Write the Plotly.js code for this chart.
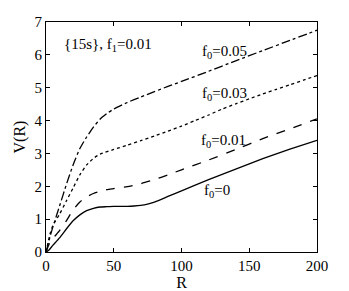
<!DOCTYPE html>
<html>
<head>
<meta charset="utf-8">
<script src="https://cdn.plot.ly/plotly-3.0.1.min.js"></script>
<style>html,body{margin:0;padding:0;background:#fff;}#chart{width:349px;height:291px;}</style>
</head>
<body>
<div id="chart"></div>
<script>
// f0 = 0 (solid)
const R0 = [0,2,5,10,15,20,25,30,35,40,45,50,55,60,65,70,75,80,90,100,120,140,160,180,200];
const V0 = [0,0.05,0.2,0.43,0.7,0.95,1.13,1.26,1.33,1.37,1.38,1.39,1.39,1.39,1.40,1.42,1.46,1.52,1.69,1.86,2.2,2.52,2.84,3.13,3.4];
// f0 = 0.01 (dashed)
const R1 = [0,3,10,15,20,25,30,35,40,45,50,60,70,80,90,100,120,140,160,180,200];
const V1 = [0,0.3,0.65,0.95,1.28,1.52,1.68,1.78,1.85,1.90,1.93,1.99,2.08,2.2,2.35,2.5,2.8,3.12,3.45,3.75,4.05];
// f0 = 0.03 (dotted)
const R3 = [0,3,5,10,15,20,25,30,35,40,50,60,70,80,90,100,110,120,130,140,150,160,170,180,190,200];
const V3 = [0,0.55,0.8,1.15,1.55,1.95,2.35,2.65,2.85,2.98,3.12,3.25,3.39,3.53,3.68,3.83,4.0,4.17,4.35,4.51,4.66,4.81,4.95,5.09,5.23,5.37];
// f0 = 0.05 (dash-dot)
const R5 = [0,3,5,10,15,20,25,30,35,40,45,50,60,70,80,90,100,120,140,160,180,200];
const V5 = [0,0.47,0.75,1.4,2.05,2.65,3.15,3.5,3.8,4.05,4.22,4.35,4.55,4.72,4.88,5.04,5.19,5.5,5.82,6.13,6.44,6.75];

const xTicks = [0,50,100,150,200];
const yTicks = [0,1,2,3,4,5,6,7];
const labels = ['f<sub>0</sub>=0.05','f<sub>0</sub>=0.03','f<sub>0</sub>=0.01','f<sub>0</sub>=0'];
const labelX = [131.6,131.6,131,126.2];
const labelY = [6.1,4.8,3.38,1.86];
const titleText = '{15s}, f<sub>1</sub>=0.01';

const font = 'Liberation Serif, Times New Roman, serif';
const ln = (x,y,dash) => ({x:x,y:y,type:'scatter',mode:'lines',line:{color:'#000',width:1.3,dash:dash,shape:'spline',smoothing:0.5},hoverinfo:'skip'});
const data = [ln(R0,V0,'solid'), ln(R1,V1,'dash'), ln(R3,V3,'dot'), ln(R5,V5,'dashdot')];

const ann = labels.map((t,i)=>({x:labelX[i],y:labelY[i],xref:'x',yref:'y',text:t,showarrow:false,xanchor:'center',yanchor:'middle',font:{family:font,size:15,color:'#000'}}));
ann.push({x:46,y:6.3,xref:'x',yref:'y',text:titleText,showarrow:false,xanchor:'center',yanchor:'middle',font:{family:font,size:15,color:'#000'}});

const axis = {showgrid:false,zeroline:false,showline:true,linecolor:'#000',linewidth:1,mirror:'ticks',ticks:'inside',ticklen:4,tickcolor:'#000',tickfont:{family:font,size:15,color:'#000'}};
const layout = {
  width:349,height:291,margin:{l:46,r:32,t:22,b:39},
  paper_bgcolor:'#fff',plot_bgcolor:'#fff',showlegend:false,
  xaxis:Object.assign({},axis,{range:[0,200],tickvals:xTicks,title:{text:'R',font:{family:font,size:16,color:'#000'},standoff:0}}),
  yaxis:Object.assign({},axis,{range:[0,7],tickvals:yTicks,title:{text:'V(R)',font:{family:font,size:16,color:'#000'},standoff:4}}),
  annotations:ann
};
Plotly.newPlot('chart',data,layout,{staticPlot:true});
</script>
</body>
</html>
